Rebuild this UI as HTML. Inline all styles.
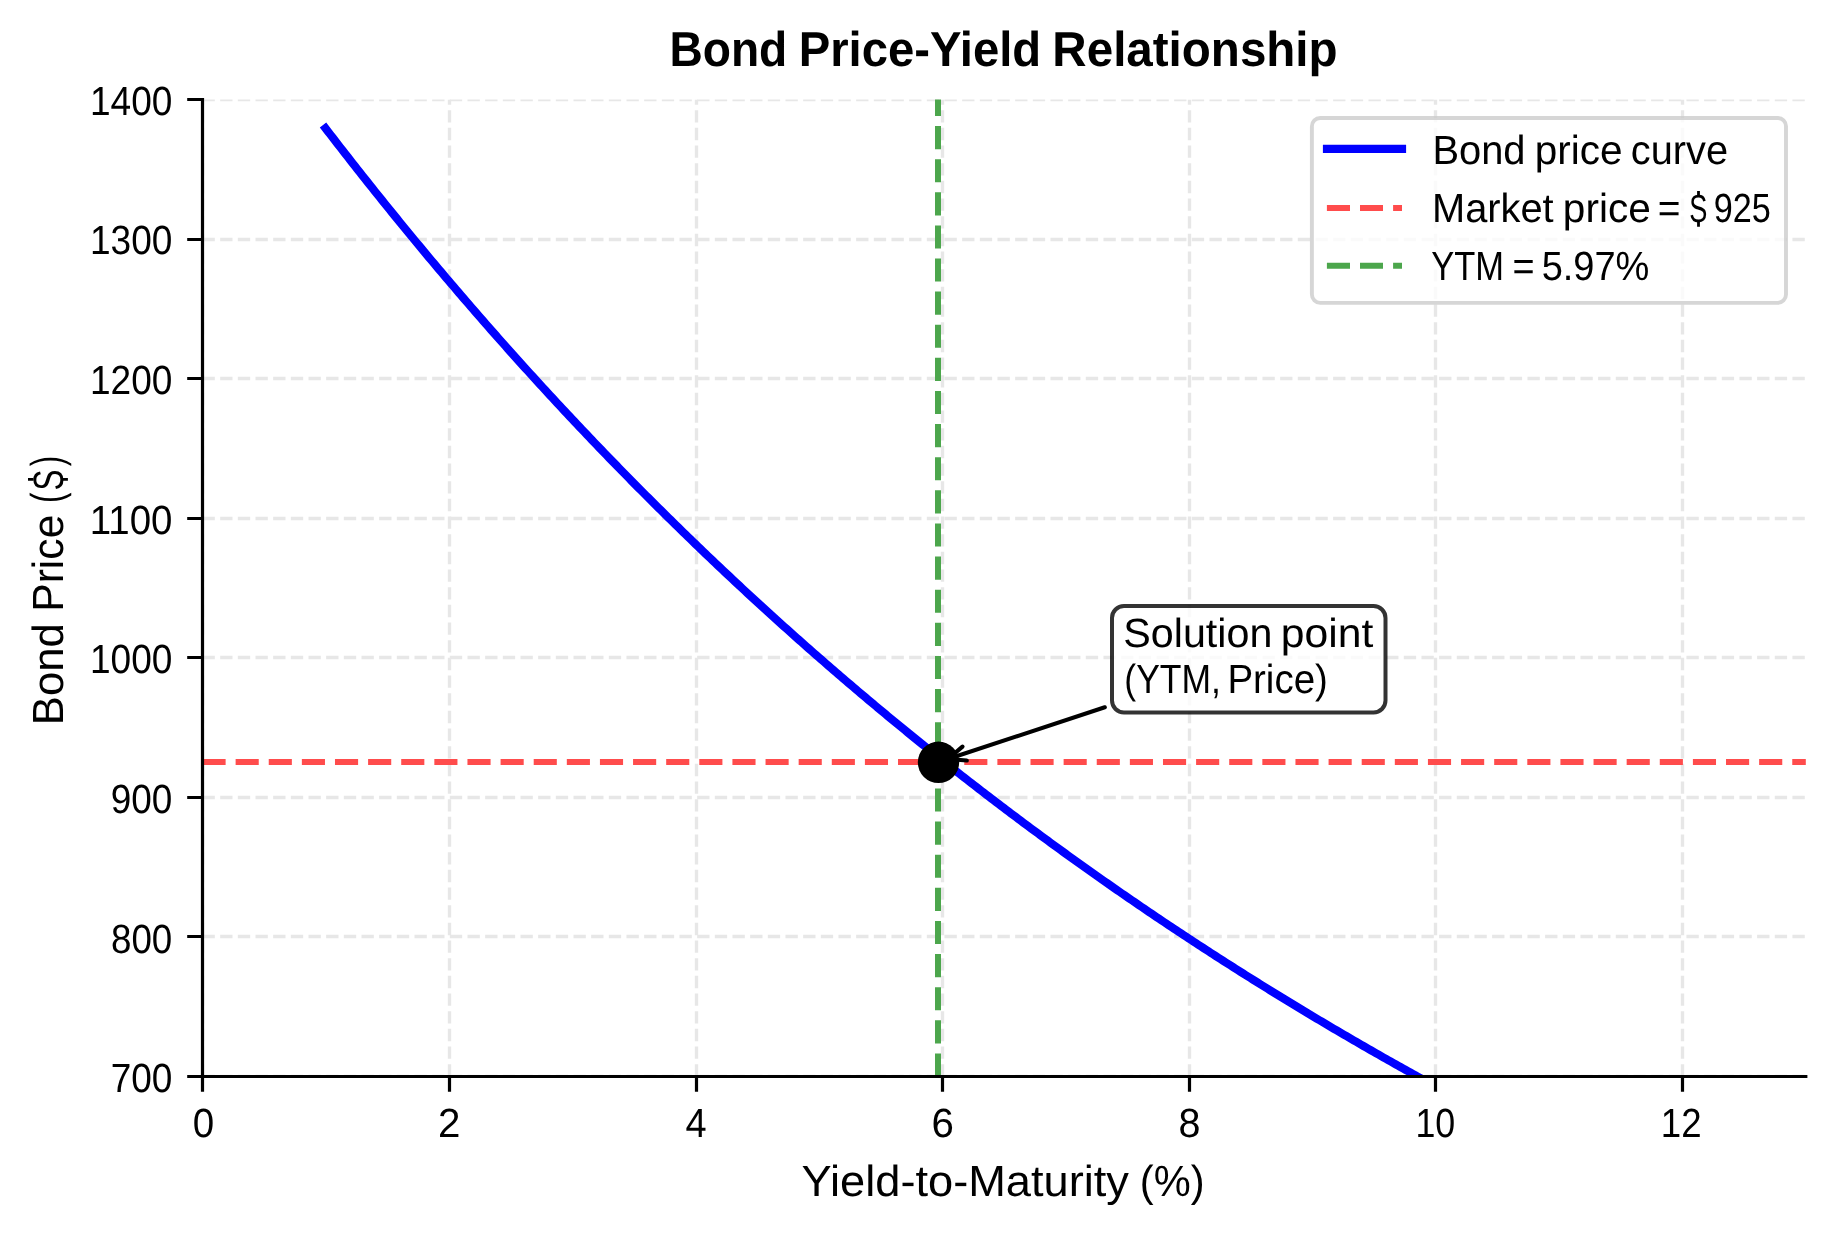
<!DOCTYPE html>
<html><head><meta charset="utf-8"><title>Bond Price-Yield Relationship</title><style>
html,body{margin:0;padding:0;background:#fff;overflow:hidden}
svg{display:block;will-change:transform}
text{font-family:"Liberation Sans",sans-serif;white-space:pre;fill:#000;text-rendering:geometricPrecision}
text.t{}
text.tb{font-weight:bold}
</style></head><body>
<svg width="1834" height="1234" viewBox="0 0 1834 1234">
<rect width="1834" height="1234" fill="#fff"/>
<defs><clipPath id="ax"><rect x="202.5" y="99.5" width="1603.30" height="977.00"/></clipPath></defs>
<g clip-path="url(#ax)" stroke="#e7e7e7" stroke-width="3.3333" stroke-dasharray="12.333,5.333" fill="none">
<path d="M202.50,1076.5 V99.5"/>
<path d="M449.50,1076.5 V99.5"/>
<path d="M696.50,1076.5 V99.5"/>
<path d="M942.50,1076.5 V99.5"/>
<path d="M1189.50,1076.5 V99.5"/>
<path d="M1435.50,1076.5 V99.5"/>
<path d="M1682.50,1076.5 V99.5"/>
<path d="M202.5,1076.50 H1805.8"/>
<path d="M202.5,936.50 H1805.8"/>
<path d="M202.5,797.50 H1805.8"/>
<path d="M202.5,657.50 H1805.8"/>
<path d="M202.5,518.50 H1805.8"/>
<path d="M202.5,378.50 H1805.8"/>
<path d="M202.5,239.50 H1805.8"/>
<path d="M202.5,99.50 H1805.8"/>
</g>
<g clip-path="url(#ax)"><path d="M323.02,125.00 L325.48,128.21 L327.95,131.42 L330.42,134.63 L332.88,137.82 L335.35,141.01 L337.81,144.20 L340.28,147.37 L342.75,150.54 L345.21,153.71 L347.68,156.86 L350.14,160.02 L352.61,163.16 L355.08,166.30 L357.54,169.43 L360.01,172.56 L362.47,175.67 L364.94,178.79 L367.41,181.89 L369.87,184.99 L372.34,188.09 L374.80,191.18 L377.27,194.26 L379.74,197.33 L382.20,200.40 L384.67,203.46 L387.13,206.52 L389.60,209.57 L392.07,212.61 L394.53,215.65 L397.00,218.68 L399.46,221.71 L401.93,224.73 L404.40,227.74 L406.86,230.75 L409.33,233.75 L411.79,236.74 L414.26,239.73 L416.73,242.71 L419.19,245.69 L421.66,248.66 L424.12,251.63 L426.59,254.59 L429.06,257.54 L431.52,260.49 L433.99,263.43 L436.45,266.36 L438.92,269.29 L441.39,272.21 L443.85,275.13 L446.32,278.04 L448.78,280.95 L451.25,283.85 L453.72,286.74 L456.18,289.63 L458.65,292.51 L461.11,295.39 L463.58,298.26 L466.05,301.12 L468.51,303.98 L470.98,306.83 L473.44,309.68 L475.91,312.52 L478.38,315.36 L480.84,318.19 L483.31,321.01 L485.77,323.83 L488.24,326.65 L490.71,329.45 L493.17,332.25 L495.64,335.05 L498.10,337.84 L500.57,340.63 L503.04,343.41 L505.50,346.18 L507.97,348.95 L510.43,351.71 L512.90,354.47 L515.37,357.22 L517.83,359.97 L520.30,362.71 L522.76,365.44 L525.23,368.17 L527.70,370.90 L530.16,373.62 L532.63,376.33 L535.09,379.04 L537.56,381.74 L540.03,384.44 L542.49,387.13 L544.96,389.82 L547.42,392.50 L549.89,395.17 L552.36,397.84 L554.82,400.51 L557.29,403.17 L559.75,405.82 L562.22,408.47 L564.69,411.11 L567.15,413.75 L569.62,416.39 L572.08,419.01 L574.55,421.64 L577.02,424.26 L579.48,426.87 L581.95,429.48 L584.41,432.08 L586.88,434.67 L589.35,437.27 L591.81,439.85 L594.28,442.43 L596.74,445.01 L599.21,447.58 L601.68,450.15 L604.14,452.71 L606.61,455.26 L609.07,457.82 L611.54,460.36 L614.01,462.90 L616.47,465.44 L618.94,467.97 L621.40,470.49 L623.87,473.01 L626.34,475.53 L628.80,478.04 L631.27,480.55 L633.73,483.05 L636.20,485.54 L638.67,488.03 L641.13,490.52 L643.60,493.00 L646.06,495.48 L648.53,497.95 L651.00,500.41 L653.46,502.88 L655.93,505.33 L658.39,507.78 L660.86,510.23 L663.33,512.67 L665.79,515.11 L668.26,517.54 L670.72,519.97 L673.19,522.39 L675.66,524.81 L678.12,527.23 L680.59,529.63 L683.05,532.04 L685.52,534.44 L687.99,536.83 L690.45,539.22 L692.92,541.61 L695.38,543.99 L697.85,546.36 L700.32,548.73 L702.78,551.10 L705.25,553.46 L707.71,555.82 L710.18,558.17 L712.65,560.52 L715.11,562.86 L717.58,565.20 L720.04,567.53 L722.51,569.86 L724.98,572.19 L727.44,574.51 L729.91,576.82 L732.37,579.14 L734.84,581.44 L737.31,583.74 L739.77,586.04 L742.24,588.34 L744.70,590.62 L747.17,592.91 L749.64,595.19 L752.10,597.46 L754.57,599.73 L757.03,602.00 L759.50,604.26 L761.97,606.52 L764.43,608.77 L766.90,611.02 L769.36,613.27 L771.83,615.51 L774.30,617.74 L776.76,619.97 L779.23,622.20 L781.69,624.42 L784.16,626.64 L786.63,628.85 L789.09,631.06 L791.56,633.27 L794.02,635.47 L796.49,637.67 L798.96,639.86 L801.42,642.05 L803.89,644.23 L806.35,646.41 L808.82,648.59 L811.29,650.76 L813.75,652.93 L816.22,655.09 L818.68,657.25 L821.15,659.40 L823.62,661.55 L826.08,663.70 L828.55,665.84 L831.01,667.98 L833.48,670.11 L835.95,672.24 L838.41,674.37 L840.88,676.49 L843.34,678.60 L845.81,680.72 L848.28,682.83 L850.74,684.93 L853.21,687.03 L855.67,689.13 L858.14,691.22 L860.61,693.31 L863.07,695.39 L865.54,697.47 L868.00,699.55 L870.47,701.62 L872.94,703.69 L875.40,705.76 L877.87,707.82 L880.33,709.87 L882.80,711.93 L885.27,713.98 L887.73,716.02 L890.20,718.06 L892.66,720.10 L895.13,722.13 L897.60,724.16 L900.06,726.18 L902.53,728.21 L904.99,730.22 L907.46,732.24 L909.93,734.25 L912.39,736.25 L914.86,738.25 L917.32,740.25 L919.79,742.25 L922.26,744.24 L924.72,746.22 L927.19,748.21 L929.65,750.18 L932.12,752.16 L934.59,754.13 L937.05,756.10 L939.52,758.06 L941.98,760.02 L944.45,761.98 L946.92,763.93 L949.38,765.88 L951.85,767.82 L954.31,769.77 L956.78,771.70 L959.25,773.64 L961.71,775.57 L964.18,777.49 L966.64,779.42 L969.11,781.34 L971.58,783.25 L974.04,785.16 L976.51,787.07 L978.97,788.98 L981.44,790.88 L983.91,792.77 L986.37,794.67 L988.84,796.56 L991.30,798.44 L993.77,800.33 L996.24,802.21 L998.70,804.08 L1001.17,805.95 L1003.63,807.82 L1006.10,809.69 L1008.57,811.55 L1011.03,813.41 L1013.50,815.26 L1015.96,817.11 L1018.43,818.96 L1020.90,820.80 L1023.36,822.64 L1025.83,824.48 L1028.29,826.31 L1030.76,828.14 L1033.23,829.97 L1035.69,831.79 L1038.16,833.61 L1040.62,835.43 L1043.09,837.24 L1045.56,839.05 L1048.02,840.85 L1050.49,842.66 L1052.95,844.46 L1055.42,846.25 L1057.89,848.04 L1060.35,849.83 L1062.82,851.62 L1065.28,853.40 L1067.75,855.18 L1070.22,856.95 L1072.68,858.72 L1075.15,860.49 L1077.61,862.26 L1080.08,864.02 L1082.55,865.78 L1085.01,867.53 L1087.48,869.28 L1089.94,871.03 L1092.41,872.78 L1094.88,874.52 L1097.34,876.26 L1099.81,877.99 L1102.27,879.73 L1104.74,881.46 L1107.21,883.18 L1109.67,884.90 L1112.14,886.62 L1114.60,888.34 L1117.07,890.05 L1119.54,891.76 L1122.00,893.47 L1124.47,895.17 L1126.93,896.87 L1129.40,898.57 L1131.87,900.26 L1134.33,901.95 L1136.80,903.64 L1139.26,905.32 L1141.73,907.00 L1144.20,908.68 L1146.66,910.35 L1149.13,912.02 L1151.59,913.69 L1154.06,915.36 L1156.53,917.02 L1158.99,918.68 L1161.46,920.33 L1163.92,921.99 L1166.39,923.63 L1168.86,925.28 L1171.32,926.92 L1173.79,928.56 L1176.25,930.20 L1178.72,931.84 L1181.19,933.47 L1183.65,935.09 L1186.12,936.72 L1188.58,938.34 L1191.05,939.96 L1193.52,941.58 L1195.98,943.19 L1198.45,944.80 L1200.91,946.41 L1203.38,948.01 L1205.85,949.61 L1208.31,951.21 L1210.78,952.80 L1213.24,954.39 L1215.71,955.98 L1218.18,957.57 L1220.64,959.15 L1223.11,960.73 L1225.57,962.31 L1228.04,963.88 L1230.51,965.46 L1232.97,967.02 L1235.44,968.59 L1237.90,970.15 L1240.37,971.71 L1242.84,973.27 L1245.30,974.82 L1247.77,976.37 L1250.23,977.92 L1252.70,979.47 L1255.17,981.01 L1257.63,982.55 L1260.10,984.08 L1262.56,985.62 L1265.03,987.15 L1267.50,988.68 L1269.96,990.20 L1272.43,991.73 L1274.89,993.24 L1277.36,994.76 L1279.83,996.28 L1282.29,997.79 L1284.76,999.30 L1287.22,1000.80 L1289.69,1002.30 L1292.16,1003.80 L1294.62,1005.30 L1297.09,1006.80 L1299.55,1008.29 L1302.02,1009.78 L1304.49,1011.26 L1306.95,1012.75 L1309.42,1014.23 L1311.88,1015.71 L1314.35,1017.18 L1316.82,1018.65 L1319.28,1020.12 L1321.75,1021.59 L1324.21,1023.05 L1326.68,1024.52 L1329.15,1025.98 L1331.61,1027.43 L1334.08,1028.89 L1336.54,1030.34 L1339.01,1031.79 L1341.48,1033.23 L1343.94,1034.67 L1346.41,1036.11 L1348.87,1037.55 L1351.34,1038.99 L1353.81,1040.42 L1356.27,1041.85 L1358.74,1043.28 L1361.20,1044.70 L1363.67,1046.12 L1366.14,1047.54 L1368.60,1048.96 L1371.07,1050.37 L1373.53,1051.79 L1376.00,1053.20 L1378.47,1054.60 L1380.93,1056.01 L1383.40,1057.41 L1385.86,1058.81 L1388.33,1060.20 L1390.80,1061.60 L1393.26,1062.99 L1395.73,1064.38 L1398.19,1065.76 L1400.66,1067.15 L1403.13,1068.53 L1405.59,1069.90 L1408.06,1071.28 L1410.52,1072.65 L1412.99,1074.03 L1415.46,1075.39 L1417.92,1076.76 L1420.39,1078.12 L1422.85,1079.48 L1425.32,1080.84 L1427.79,1082.20 L1430.25,1083.55 L1432.72,1084.90 L1435.18,1086.25 L1437.65,1087.60 L1440.12,1088.94 L1442.58,1090.28 L1445.05,1091.62 L1447.51,1092.96 L1449.98,1094.29 L1452.45,1095.62 L1454.91,1096.95 L1457.38,1098.28 L1459.84,1099.60 L1462.31,1100.93 L1464.78,1102.25 L1467.24,1103.56 L1469.71,1104.88 L1472.17,1106.19 L1474.64,1107.50 L1477.11,1108.81 L1479.57,1110.11 L1482.04,1111.42 L1484.50,1112.72 L1486.97,1114.01 L1489.44,1115.31 L1491.90,1116.60 L1494.37,1117.89 L1496.83,1119.18 L1499.30,1120.47 L1501.77,1121.75 L1504.23,1123.04 L1506.70,1124.32 L1509.16,1125.59 L1511.63,1126.87 L1514.10,1128.14 L1516.56,1129.41 L1519.03,1130.68 L1521.49,1131.94 L1523.96,1133.21 L1526.43,1134.47 L1528.89,1135.73 L1531.36,1136.98 L1533.82,1138.24 L1536.29,1139.49 L1538.76,1140.74 L1541.22,1141.99 L1543.69,1143.23 L1546.15,1144.48 L1548.62,1145.72 L1551.09,1146.96 L1553.55,1148.19 L1556.02,1149.43 L1558.48,1150.66 L1560.95,1151.89 L1563.42,1153.12 L1565.88,1154.34 L1568.35,1155.57 L1570.81,1156.79 L1573.28,1158.00 L1575.75,1159.22 L1578.21,1160.44 L1580.68,1161.65 L1583.14,1162.86 L1585.61,1164.07 L1588.08,1165.27 L1590.54,1166.48 L1593.01,1167.68 L1595.47,1168.88 L1597.94,1170.07 L1600.41,1171.27 L1602.87,1172.46 L1605.34,1173.65 L1607.80,1174.84 L1610.27,1176.03 L1612.74,1177.21 L1615.20,1178.39 L1617.67,1179.57 L1620.13,1180.75 L1622.60,1181.93 L1625.07,1183.10 L1627.53,1184.27 L1630.00,1185.44 L1632.46,1186.61 L1634.93,1187.78 L1637.40,1188.94 L1639.86,1190.10 L1642.33,1191.26 L1644.79,1192.42 L1647.26,1193.57 L1649.73,1194.73 L1652.19,1195.88 L1654.66,1197.03 L1657.12,1198.17 L1659.59,1199.32 L1662.06,1200.46 L1664.52,1201.60 L1666.99,1202.74 L1669.45,1203.88 L1671.92,1205.01 L1674.39,1206.14 L1676.85,1207.28 L1679.32,1208.40 L1681.78,1209.53 L1684.25,1210.66 L1686.72,1211.78 L1689.18,1212.90 L1691.65,1214.02 L1694.11,1215.14 L1696.58,1216.25 L1699.05,1217.36 L1701.51,1218.47 L1703.98,1219.58 L1706.44,1220.69 L1708.91,1221.79 L1711.38,1222.90 L1713.84,1224.00 L1716.31,1225.10 L1718.77,1226.20 L1721.24,1227.29 L1723.71,1228.38 L1726.17,1229.48 L1728.64,1230.57 L1731.10,1231.65 L1733.57,1232.74 L1736.04,1233.82 L1738.50,1234.90 L1740.97,1235.98 L1743.43,1237.06 L1745.90,1238.14 L1748.37,1239.21 L1750.83,1240.28 L1753.30,1241.36 L1755.76,1242.42 L1758.23,1243.49 L1760.70,1244.56 L1763.16,1245.62 L1765.63,1246.68 L1768.09,1247.74 L1770.56,1248.80 L1773.03,1249.85 L1775.49,1250.91 L1777.96,1251.96 L1780.42,1253.01 L1782.89,1254.06 L1785.36,1255.10 L1787.82,1256.15 L1790.29,1257.19 L1792.75,1258.23 L1795.22,1259.27 L1797.69,1260.31 L1800.15,1261.34 L1802.62,1262.38 L1805.08,1263.41" fill="none" stroke="#0000ff" stroke-width="8.1" stroke-linejoin="round" stroke-linecap="butt"/></g>
<path d="M202.5,762.0 H1805.8" stroke="#ff4c4c" stroke-width="6" stroke-dasharray="23.12,10.00" fill="none"/>
<path d="M938.0,1076.5 V99.5" stroke="#4ca64c" stroke-width="6" stroke-dasharray="23.12,10.00" fill="none"/>
<path d="M202.5,97.9 V1078.1 M200.9,1076.5 H1807.3999999999999" stroke="#000" stroke-width="3.2" fill="none"/>
<path d="M202.50,1076.5 V1091.7 M449.50,1076.5 V1091.7 M696.50,1076.5 V1091.7 M942.50,1076.5 V1091.7 M1189.50,1076.5 V1091.7 M1435.50,1076.5 V1091.7 M1682.50,1076.5 V1091.7 M202.5,1076.50 H187.2 M202.5,936.50 H187.2 M202.5,797.50 H187.2 M202.5,657.50 H187.2 M202.5,518.50 H187.2 M202.5,378.50 H187.2 M202.5,239.50 H187.2 M202.5,99.50 H187.2" stroke="#000" stroke-width="3.2" fill="none"/>
<path d="M1104.8,707.3 L948.0,759.0" stroke="#000" stroke-width="4.17" stroke-linecap="round" fill="none"/>
<path d="M962.5,746.6 L948.0,759.0 L966.8,760.5" stroke="#000" stroke-width="4.17" stroke-linecap="round" stroke-linejoin="round" fill="none"/>
<rect x="1112" y="606" width="273.5" height="106.5" rx="12" ry="12" fill="rgba(255,255,255,0.8)" stroke="rgba(0,0,0,0.8)" stroke-width="4.0"/>
<text class="t" transform="translate(1123.32,647.40) scale(1.0136,1)" font-size="40.70">Solution</text>
<text class="t" transform="translate(1280.73,647.40) scale(1.0484,1)" font-size="40.70">point</text>
<text class="t" transform="translate(1124.35,692.80) scale(0.8716,1)" font-size="40.70">(YTM,</text>
<text class="t" transform="translate(1227.40,692.80) scale(0.9452,1)" font-size="40.70">Price)</text>
<circle cx="938.5" cy="762.3" r="20.7" fill="#000"/>
<rect x="1311.9" y="118" width="474.1" height="184.9" rx="8.3" ry="8.3" fill="rgba(255,255,255,0.8)" stroke="rgba(204,204,204,0.8)" stroke-width="3.9"/>
<path d="M1322.9,148.85 H1406.1" stroke="#0000ff" stroke-width="8.2" fill="none"/>
<path d="M1326.9,207.9 H1350 M1360,207.9 H1383 M1393.1,207.9 H1402" stroke="#ff4c4c" stroke-width="6" fill="none"/>
<path d="M1326.9,265.85 H1350 M1360,265.85 H1383 M1393.1,265.85 H1402" stroke="#4ca64c" stroke-width="6" fill="none"/>
<text class="tb" transform="translate(669.42,65.70) scale(0.9392,1)" font-size="49.13">Bond</text>
<text class="tb" transform="translate(798.65,65.70) scale(0.9621,1)" font-size="49.13">Price-Yield</text>
<text class="tb" transform="translate(1052.36,65.70) scale(0.9677,1)" font-size="49.13">Relationship</text>
<text class="t" transform="translate(801.56,1195.80) scale(1.0369,1)" font-size="43.60">Yield-to-Maturity</text>
<text class="t" transform="translate(1139.81,1195.80) scale(0.9538,1)" font-size="43.60">(%)</text>
<text class="t" transform="translate(1432.43,163.90) scale(0.9792,1)" font-size="40.70">Bond</text>
<text class="t" transform="translate(1534.76,163.90) scale(0.9955,1)" font-size="40.70">price</text>
<text class="t" transform="translate(1630.87,163.90) scale(0.9764,1)" font-size="40.70">curve</text>
<text class="t" transform="translate(1431.97,222.00) scale(0.9784,1)" font-size="40.70">Market</text>
<text class="t" transform="translate(1562.87,222.00) scale(0.9963,1)" font-size="40.70">price</text>
<text class="t" transform="translate(1657.74,222.00) scale(0.9571,1)" font-size="40.70">=</text>
<text class="t" transform="translate(1713.73,222.00) scale(0.8411,1)" font-size="40.70">925</text>
<text class="t" transform="translate(1431.24,279.90) scale(0.8473,1)" font-size="40.70">YTM</text>
<text class="t" transform="translate(1512.53,279.90) scale(0.9295,1)" font-size="40.70">=</text>
<text class="t" transform="translate(1541.69,279.90) scale(0.9332,1)" font-size="40.70">5.97%</text>
<text class="tn" transform="translate(110.69,1092.00) scale(0.9089,1)" font-size="40.70">700</text>
<text class="tn" transform="translate(111.00,953.00) scale(0.9026,1)" font-size="40.70">800</text>
<text class="tn" transform="translate(110.80,813.00) scale(0.9070,1)" font-size="40.70">900</text>
<text class="tn" transform="translate(89.98,673.00) scale(0.9098,1)" font-size="40.70">1000</text>
<text class="tn" transform="translate(89.82,534.00) scale(0.9444,1)" font-size="40.70">1100</text>
<text class="tn" transform="translate(89.98,394.00) scale(0.9098,1)" font-size="40.70">1200</text>
<text class="tn" transform="translate(89.98,254.00) scale(0.9098,1)" font-size="40.70">1300</text>
<text class="tn" transform="translate(89.98,115.00) scale(0.9098,1)" font-size="40.70">1400</text>
<text class="tn" transform="translate(192.66,1137.00) scale(0.9459,1)" font-size="40.70">0</text>
<text class="tn" transform="translate(437.94,1137.00) scale(0.9914,1)" font-size="40.70">2</text>
<text class="tn" transform="translate(685.46,1137.00) scale(0.9323,1)" font-size="40.70">4</text>
<text class="tn" transform="translate(931.47,1137.00) scale(0.9890,1)" font-size="40.70">6</text>
<text class="tn" transform="translate(1178.51,1137.00) scale(0.9684,1)" font-size="40.70">8</text>
<text class="tn" transform="translate(1415.39,1137.00) scale(0.8795,1)" font-size="40.70">10</text>
<text class="tn" transform="translate(1660.84,1137.00) scale(0.9007,1)" font-size="40.70">12</text>
<text class="t" transform="translate(1689.15,222.11) scale(0.6936,1)" font-size="39.19">S</text>
<text class="t" transform="translate(61.70,501.00) rotate(-90) translate(-1.93,0) scale(0.6950,1)" font-size="44.69">(</text>
<text class="t" transform="translate(62.57,489.00) rotate(-90) translate(-1.45,0) scale(0.7391,1)" font-size="42.51">S</text>
<text class="t" transform="translate(61.70,466.00) rotate(-90) translate(-0.25,0) scale(0.7003,1)" font-size="44.69">)</text>
<path d="M1697.10,190.90H1699.90V195.80H1697.10Z M1697.10,221.60H1699.90V226.80H1697.10Z M28.00,477.90H33.50V480.70H28.00Z M62.50,477.90H67.90V480.70H62.50Z" fill="#000"/>
<text class="t" transform="translate(62.9,721.70) rotate(-90) translate(-3.59,0) scale(1.0031,1)" font-size="43.60">Bond</text>
<text class="t" transform="translate(62.9,608.30) rotate(-90) translate(-3.50,0) scale(0.9783,1)" font-size="43.60">Price</text>
</svg></body></html>
